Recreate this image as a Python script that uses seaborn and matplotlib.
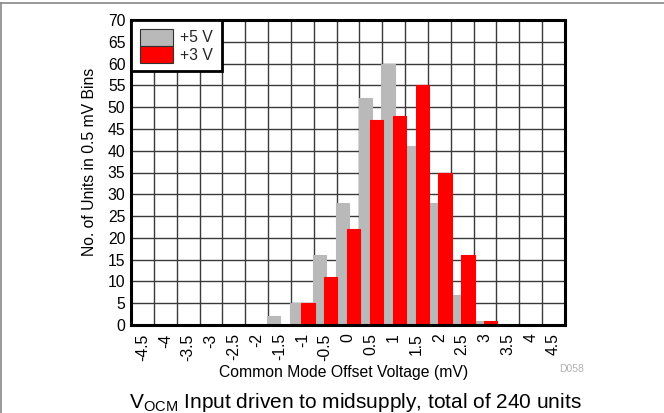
import numpy as np
import pandas as pd
import seaborn as sns
import matplotlib.pyplot as plt
from matplotlib.lines import Line2D

# Offset-voltage bins (mV) and unit counts per bin for each supply
bins = ["-4.5", "-4", "-3.5", "-3", "-2.5", "-2", "-1.5", "-1", "-0.5", "0",
        "0.5", "1", "1.5", "2", "2.5", "3", "3.5", "4", "4.5"]
units_5v = [0, 0, 0, 0, 0, 0, 2, 5, 16, 28, 52, 60, 41, 28, 7, 1, 0, 0, 0]
units_3v = [0, 0, 0, 0, 0, 0, 0, 5, 11, 22, 47, 48, 55, 35, 16, 1, 0, 0, 0]
supplies = ["+5 V", "+3 V"]
colors = ["#B9B9B9", "#FF0000"]
y_ticks = list(range(0, 71, 5))

df = pd.DataFrame({
    "bin": bins * 2,
    "units": units_5v + units_3v,
    "supply": [supplies[0]] * len(bins) + [supplies[1]] * len(bins),
})

sns.set_theme(style="white")
plt.rcParams["font.family"] = ["Liberation Sans", "DejaVu Sans"]
plt.rcParams["mathtext.fontset"] = "custom"
plt.rcParams["mathtext.rm"] = "Liberation Sans"

FS = 11.3

fig = plt.figure(figsize=(6.64, 4.13), dpi=100)
ax = fig.add_axes([131 / 664, 1 - 325 / 413, 434 / 664, 305 / 413])

sns.barplot(data=df, x="bin", y="units", hue="supply", order=bins,
            hue_order=supplies, palette=colors, saturation=1, width=1.0,
            dodge=True, ax=ax, legend=True)

# overlapping bars: widen each bar a bit around its dodged centre
for container, col in zip(ax.containers, colors):
    for p in container:
        c = p.get_x() + p.get_width() / 2
        w = 0.58
        p.set_x(c - w / 2)
        p.set_width(w)
        p.set_edgecolor(col)
        p.set_linewidth(0.8)

ax.set_xlim(-0.5, len(bins) - 0.5)
ax.set_ylim(0, 70)
ax.set_yticks(y_ticks)
ax.set_yticklabels([str(v) for v in y_ticks], fontsize=FS)
ax.set_xticks(range(len(bins)))
ax.set_xticklabels(bins, rotation=90, fontsize=FS)
ax.set_xticks(np.arange(-0.5, len(bins), 1), minor=True)
ax.tick_params(axis="both", which="both", length=0, colors="black")
ax.tick_params(axis="x", pad=6)
ax.tick_params(axis="y", pad=4)

ax.set_axisbelow(True)
ax.grid(True, axis="y", which="major", color="#3a3a3a", linewidth=1.0)
ax.grid(True, axis="x", which="minor", color="#3a3a3a", linewidth=1.0)
ax.grid(False, axis="x", which="major")

for s in ax.spines.values():
    s.set_visible(True)
    s.set_color("black")
    s.set_linewidth(2.2)

ax.set_xlabel("Common Mode Offset Voltage (mV)", fontsize=FS, color="black")
ax.set_ylabel("No. of Units in 0.5 mV Bins", fontsize=FS, color="black")
ax.xaxis.set_label_coords(0.49, -0.132)
ax.yaxis.set_label_coords(-0.078, 0.535)

handles, labels = ax.get_legend_handles_labels()
for h in handles:
    h.set_edgecolor("#333333")
    h.set_linewidth(0.8)
leg = ax.legend(handles, labels, loc="upper left", borderaxespad=0,
                fontsize=FS, frameon=True, fancybox=False,
                handlelength=2.1, handleheight=1.3, labelspacing=0,
                handletextpad=0.5, borderpad=0.55)
leg.get_frame().set_edgecolor("black")
leg.get_frame().set_linewidth(2.0)
leg.get_frame().set_facecolor("white")
leg.get_frame().set_alpha(1)

fig.text(572 / 664, 1 - 369 / 413, "D058", fontsize=7.5, color="#b0b0b0",
         ha="center", va="center")
fig.text(355 / 664, 1 - 402 / 413,
         r"V$_{\mathrm{OCM}}$ Input driven to midsupply, total of 240 units",
         fontsize=15, color="black", ha="center", va="center")

# outer frame of the figure panel
fig.add_artist(Line2D([0, 1], [1 - 3 / 413, 1 - 3 / 413],
                      transform=fig.transFigure, color="#888888", lw=1.2))
fig.add_artist(Line2D([1 / 664, 1 / 664], [0, 1 - 3 / 413],
                      transform=fig.transFigure, color="#888888", lw=1.2))

fig.savefig("out.png", dpi=100)
